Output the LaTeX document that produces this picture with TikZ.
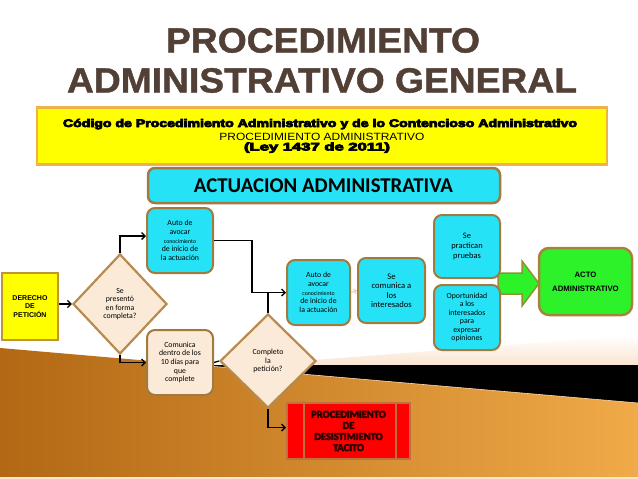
\documentclass[tikz,border=0pt]{standalone}
\usepackage{fontspec}
\usepackage{graphicx}
\setmainfont{Carlito}
\newfontfamily\arialf{Liberation Sans}
\newfontfamily\heavyf{Liberation Sans Bold}
\newfontfamily\carlheavy{Carlito Bold}
\newcommand\strk[2]{\special{pdf:literal #1 w 2 Tr}#2\special{pdf:literal 0 Tr}}
\usetikzlibrary{shapes.geometric,arrows.meta,calc}
\definecolor{cyanc}{RGB}{38,226,246}
\definecolor{bordc}{RGB}{160,122,62}
\definecolor{beigec}{RGB}{251,234,215}
\definecolor{decb}{RGB}{185,138,78}
\definecolor{yellowc}{RGB}{255,255,0}
\definecolor{ybord}{RGB}{238,178,70}
\definecolor{ybord2}{RGB}{190,150,55}
\definecolor{greenc}{RGB}{45,242,42}
\definecolor{greenb}{RGB}{145,145,50}
\definecolor{actob}{RGB}{170,130,60}
\definecolor{redc}{RGB}{255,0,0}
\definecolor{redb}{RGB}{192,112,62}
\definecolor{redtext}{RGB}{45,0,0}
\definecolor{titlec}{RGB}{82,64,54}
\definecolor{peachc}{RGB}{251,228,208}
\definecolor{orangeL}{RGB}{178,104,20}
\definecolor{orangeM}{RGB}{224,142,40}
\definecolor{orangeR}{RGB}{240,170,72}
\definecolor{lightarr}{RGB}{250,200,140}
\begin{document}
\begin{tikzpicture}[x=1pt,y=-1pt,
  arr/.style={draw=black,line width=1.3pt,-{Straight Barb[length=3.5pt,width=7pt]}},
  conn/.style={draw=black,line width=1.3pt},
  rbox/.style={draw=bordc,line width=2pt,rounded corners=8pt,inner sep=1pt,align=center,font=\fontsize{7.8}{8.6}\selectfont},
  cbox/.style={rbox,fill=cyanc},
  bbox/.style={rbox,fill=beigec},
  dec/.style={diamond,draw=decb,line width=2.2pt,fill=beigec,inner sep=0pt,align=center,font=\fontsize{7.8}{8.6}\selectfont},
  txt/.style={anchor=base,inner sep=0pt}
]
\useasboundingbox (0,0) rectangle (638,479);
% background
\fill[white] (0,0) rectangle (638,479);
\shade[top color=white,bottom color=peachc] (250,365) -- (638,335) -- (638,365) -- cycle;
\fill[black] (190,365) -- (638,365) -- (638,404) -- cycle;
\shade[left color=orangeL,middle color=orangeM,right color=orangeR] (0,348) -- (638,403) -- (638,477) -- (0,477) -- cycle;
\draw[white!70!orange,line width=0.6pt] (197,365) -- (638,403);
\fill[peachc] (0,477) rectangle (638,479);

% title
\node[txt,text=titlec] (t1) at (323,52.5) {\resizebox{314pt}{\height}{\arialf\bfseries\fontsize{35}{35}\selectfont\strk{0.4}{PROCEDIMIENTO}}};
\node[txt,text=titlec] (t2) at (322,92.5) {\resizebox{510pt}{\height}{\arialf\bfseries\fontsize{35}{35}\selectfont\strk{0.4}{ADMINISTRATIVO GENERAL}}};

% yellow header box
\node[draw=ybord,line width=2.2pt,fill=yellowc,minimum width=570pt,minimum height=57pt,inner sep=0pt] (codigo) at (322,136) {};
\node[txt] (c1) at (320,127) {\resizebox{514pt}{\height}{\heavyf\fontsize{11}{11}\selectfont\strk{0.7}{Código de Procedimiento Administrativo y de lo Contencioso Administrativo}}};
\node[txt] (c2) at (322,140.5) {\resizebox{205pt}{\height}{\arialf\fontsize{10.5}{10.5}\selectfont PROCEDIMIENTO ADMINISTRATIVO}};
\node[txt] (c3) at (317,150.5) {\resizebox{146pt}{\height}{\heavyf\fontsize{11}{11}\selectfont\strk{0.7}{(Ley 1437 de 2011)}}};

% ACTUACION ADMINISTRATIVA
\node[cbox,minimum width=352pt,minimum height=35pt,rounded corners=7pt,line width=2.5pt] (actu) at (324,185.5) {};
\node[txt] (actut) at (323.5,192) {\resizebox{259pt}{\height}{\bfseries\fontsize{21}{21}\selectfont ACTUACION ADMINISTRATIVA}};

% green block arrow (drawn first, boxes overlap its tail)
\coordinate (gtail) at (498,283.5);
\filldraw[fill=greenc,draw=greenb,line width=1.5pt] ($(gtail)+(0,-10.5)$) -- ++(24,0) -- ++(0,-12) -- (539,283.5) -- ($(gtail)+(24,22.5)$) -- ++(0,-12) -- ($(gtail)+(0,10.5)$) -- cycle;

% nodes
\node[draw=ybord2,line width=2pt,fill=yellowc,minimum width=56pt,minimum height=67pt,inner sep=0pt,align=center,font=\arialf\bfseries\fontsize{7}{8.4}\selectfont] (der) at (30,306.5) {DERECHO\\DE\\PETICIÓN};
\node[dec,minimum width=94pt,minimum height=100pt] (dec1) at (120,304) {Se\\presentó\\en forma\\completa?};
\node[cbox,minimum width=66pt,minimum height=65pt] (auto1) at (180,240.5) {Auto de\\avocar\\{\fontsize{5.8}{8.6}\selectfont conocimiento}\\de inicio de\\la actuación};
\node[bbox,minimum width=66pt,minimum height=65pt] (comunica) at (180,362.5) {Comunica\\dentro de los\\10 días para\\que\\complete};
\node[dec,minimum width=96pt,minimum height=94pt] (dec2) at (268,361) {Completo\\la\\petición?};
\node[cbox,minimum width=63pt,minimum height=65pt] (auto2) at (318.5,292.5) {Auto de\\avocar\\{\fontsize{5.8}{8.6}\selectfont conocimiento}\\de inicio de\\la actuación};
\node[cbox,minimum width=67pt,minimum height=65pt,font=\fontsize{8.6}{9.5}\selectfont] (comun) at (391.5,290.5) {Se\\comunica a\\los\\interesados};
\node[cbox,minimum width=66pt,minimum height=63pt,font=\fontsize{8.4}{10}\selectfont] (pract) at (467,246.5) {Se\\practican\\pruebas};
\node[cbox,minimum width=66pt,minimum height=65pt,font=\fontsize{7.8}{8.5}\selectfont] (oport) at (467,317.5) {Oportunidad\\a los\\interesados\\para\\expresar\\opiniones};
\node[rbox,fill=greenc,draw=actob,line width=2.5pt,rounded corners=10pt,minimum width=93pt,minimum height=67pt,font=\arialf\bfseries\fontsize{7.8}{14}\selectfont] (acto) at (585.5,281.5) {ACTO\\ADMINISTRATIVO};
\node[draw=redb,line width=2pt,fill=redc,minimum width=123pt,minimum height=56pt,inner sep=0pt,align=center,text=redtext,font=\carlheavy\fontsize{10.5}{11.1}\selectfont] (red) at (348.5,431) {\strk{0.5}{PROCEDIMIENTO}\\\strk{0.5}{DE}\\\strk{0.5}{DESISTIMIENTO}\\\strk{0.5}{TACITO}};
\draw[redb,line width=2pt] ([xshift=18pt]red.north west) -- ([xshift=18pt]red.south west);
\draw[redb,line width=2pt] ([xshift=-15pt]red.north east) -- ([xshift=-15pt]red.south east);

% connectors
\draw[arr] (der.east |- dec1.west) -- (dec1.west);
\draw[arr] (dec1.north) |- ([yshift=4.5pt]auto1.west);
\draw[arr] (auto1.east) -- ++(38,0) |- (auto2.west);
\draw[conn] (dec2.north) -- (dec2.north |- auto2.west);
\draw[draw=lightarr,line width=1pt,-{Straight Barb[length=2.5pt,width=5pt]}] (auto2.east) -- (comun.west);
\draw[arr] (dec1.south) |- (comunica.west);
\draw[conn] (comunica.east) -- (dec2.west);
\draw[arr] (dec2.south) |- ([yshift=3.5pt]red.west);
\end{tikzpicture}
\end{document}
